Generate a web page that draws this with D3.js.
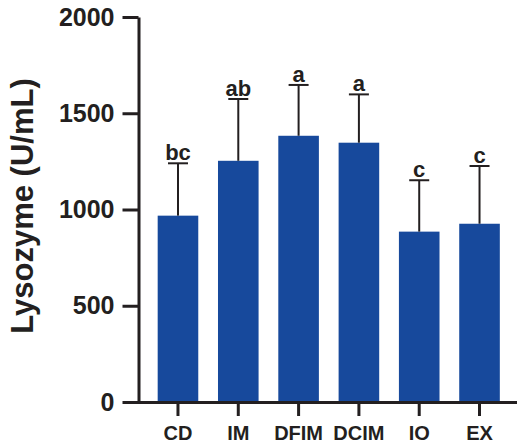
<!DOCTYPE html>
<html>
<head>
<meta charset="utf-8">
<script src="https://cdn.jsdelivr.net/npm/d3@7"></script>
<style>
  body { margin: 0; background: #fff; }
  text { font-family: "Liberation Sans", Arial, sans-serif; font-weight: bold; fill: #231f20; }
</style>
</head>
<body>
<svg id="chart" width="518" height="447"></svg>
<script>
// data
const groups = ['CD', 'IM', 'DFIM', 'DCIM', 'IO', 'EX'];
const means = [968, 1253, 1383, 1347, 885, 926];
const sds = [272, 321, 264, 251, 267, 300];
const letters = ['bc', 'ab', 'a', 'a', 'c', 'c'];
const yTicks = [0, 500, 1000, 1500, 2000];

const svg = d3.select('#chart');
const ink = '#231f20';

const x = d3.scaleBand()
    .domain(groups)
    .range([138.5, 519])
    .paddingInner(0.327)
    .paddingOuter(0.318);

const y = d3.scaleLinear()
    .domain([0, 2000])
    .range([402, 17]);

// bars
svg.selectAll('rect.bar')
    .data(groups)
    .join('rect')
    .attr('class', 'bar')
    .attr('x', d => x(d))
    .attr('width', x.bandwidth())
    .attr('y', (d, i) => y(means[i]))
    .attr('height', (d, i) => y(0) - y(means[i]))
    .attr('fill', '#17499c');

// error bars (upper only)
const err = svg.append('g')
    .attr('stroke', ink)
    .attr('stroke-width', 2);
groups.forEach((g, i) => {
    const cx = x(g) + x.bandwidth() / 2;
    err.append('line')
        .attr('x1', cx).attr('x2', cx)
        .attr('y1', y(means[i])).attr('y2', y(means[i] + sds[i]));
    err.append('line')
        .attr('x1', cx - 10).attr('x2', cx + 10)
        .attr('y1', y(means[i] + sds[i])).attr('y2', y(means[i] + sds[i]));
});

// significance letters
svg.selectAll('text.sig')
    .data(groups)
    .join('text')
    .attr('class', 'sig')
    .attr('x', d => x(d) + x.bandwidth() / 2)
    .attr('y', (d, i) => y(means[i] + sds[i]) - 3)
    .attr('text-anchor', 'middle')
    .attr('font-size', 22)
    .text((d, i) => letters[i]);

// y axis
const yAxis = svg.append('g')
    .attr('transform', 'translate(138.5,0)')
    .call(d3.axisLeft(y).tickValues(yTicks).tickFormat(d3.format('d'))
        .tickSize(16).tickPadding(8).tickSizeOuter(0));
yAxis.select('.domain').attr('stroke', ink).attr('stroke-width', 3);
yAxis.selectAll('.tick line').attr('stroke', ink).attr('stroke-width', 3);
yAxis.selectAll('.tick text')
    .attr('font-size', 25)
    .attr('font-family', '"Liberation Sans", Arial, sans-serif')
    .attr('font-weight', 'bold')
    .attr('fill', ink);

// x axis
const xAxis = svg.append('g')
    .attr('transform', 'translate(0,402)')
    .call(d3.axisBottom(x).tickSize(14).tickPadding(10).tickSizeOuter(0));
xAxis.select('.domain').attr('stroke', ink).attr('stroke-width', 3)
    .attr('d', 'M137,0.5H517');
xAxis.selectAll('.tick line').attr('stroke', ink).attr('stroke-width', 3);
xAxis.selectAll('.tick text')
    .attr('font-size', 20)
    .attr('font-family', '"Liberation Sans", Arial, sans-serif')
    .attr('font-weight', 'bold')
    .attr('fill', ink);

// y title
svg.append('text')
    .attr('transform', 'translate(33,206) rotate(-90)')
    .attr('text-anchor', 'middle')
    .attr('font-size', 31)
    .text('Lysozyme (U/mL)');
</script>
</body>
</html>
